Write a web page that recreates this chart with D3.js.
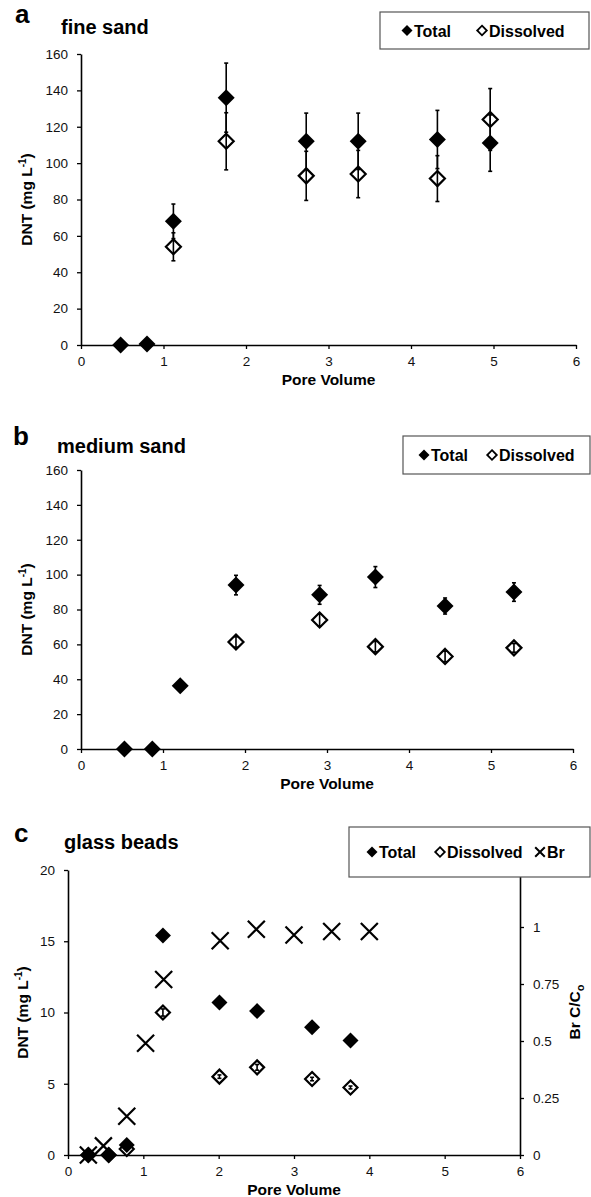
<!DOCTYPE html>
<html>
<head>
<meta charset="utf-8">
<script src="https://cdn.jsdelivr.net/npm/d3@7"></script>
<style>
  body { margin: 0; background: #fff; }
  text { font-family: Arial, "Liberation Sans", Helvetica, sans-serif; }
</style>
</head>
<body>
<div id="chart"></div>
<script>
// ---- data ----
// panel a, fine sand
const aTotalPV  = [0.48, 0.80, 1.12, 1.76, 2.73, 3.36, 4.32, 4.96];
const aTotalDNT = [0, 0.5, 68, 136, 112, 112, 113, 111];
const aTotalErr = [0, 0, 9.5, 19, 15.5, 15.5, 16, 15.5];
const aDissPV   = [1.12, 1.76, 2.73, 3.36, 4.32, 4.96];
const aDissDNT  = [54, 112, 93, 94, 91.5, 124];
const aDissErr  = [7.7, 15.7, 13.5, 13, 12.6, 17];

// panel b, medium sand
const bTotalPV  = [0.53, 0.87, 1.21, 1.89, 2.91, 3.59, 4.44, 5.28];
const bTotalDNT = [0, 0, 36.3, 94, 88.4, 98.6, 82, 90];
const bTotalErr = [0, 0, 0, 5.6, 5.4, 6, 4.6, 5.3];
const bDissPV   = [1.89, 2.91, 3.59, 4.44, 5.28];
const bDissDNT  = [61.4, 74, 58.7, 53.1, 58];
const bDissErr  = [3, 3.5, 3, 3, 2.5];

// panel c, glass beads
const cTotalPV  = [0.27, 0.54, 0.78, 1.26, 2.01, 2.51, 3.24, 3.75];
const cTotalDNT = [0, 0, 0.7, 15.4, 10.7, 10.1, 8.97, 8.03];
const cDissPV   = [0.27, 0.54, 0.78, 1.26, 2.01, 2.51, 3.24, 3.75];
const cDissDNT  = [0, 0, 0.42, 10.0, 5.5, 6.15, 5.33, 4.74];
const cDissErr  = [0, 0, 0, 0.25, 0.12, 0.2, 0.12, 0.1];
const cBrPV     = [0.27, 0.47, 0.78, 1.03, 1.27, 2.02, 2.5, 3.0, 3.5, 4.0];
const cBrRatio  = [0, 0.04, 0.17, 0.49, 0.77, 0.94, 0.99, 0.965, 0.98, 0.98];

const xTicks = [0, 1, 2, 3, 4, 5, 6];
const yTicksSand = [0, 20, 40, 60, 80, 100, 120, 140, 160];
const yTicksBeads = [0, 5, 10, 15, 20];
const brTicks = [0, 0.25, 0.5, 0.75, 1];

const legendAB = ["Total", "Dissolved"];
const legendC = ["Total", "Dissolved", "Br"];

// ---- drawing ----
const svg = d3.select("#chart").append("svg")
    .attr("width", 591)
    .attr("height", 1197);

function diamond(r) {
    return "M0," + (-r) + "L" + r + ",0L0," + r + "L" + (-r) + ",0Z";
}
function cross(r) {
    return "M" + (-r) + "," + (-r) + "L" + r + "," + r + "M" + (-r) + "," + r + "L" + r + "," + (-r);
}
function zip(xs, ys, es) {
    return xs.map((x, i) => ({ x: x, y: ys[i], e: es ? es[i] : 0 }));
}

function styleAxis(g) {
    g.select(".domain").attr("stroke", "#000").attr("stroke-width", 1.6);
    g.selectAll(".tick line").attr("stroke", "#000").attr("stroke-width", 1.3);
    g.selectAll(".tick text")
        .attr("font-family", "Arial, 'Liberation Sans', sans-serif")
        .attr("font-size", 13.5)
        .attr("fill", "#111");
}

function drawPanel(p) {
    var x = d3.scaleLinear().domain([0, 6]).range([p.left, p.right]);
    var y = d3.scaleLinear().domain([0, p.yMax]).range([p.bottom, p.top]);

    svg.append("g")
        .attr("transform", "translate(0," + p.bottom + ")")
        .call(d3.axisBottom(x).tickValues(xTicks).tickFormat(d3.format("d"))
            .tickSize(4).tickSizeOuter(0).tickPadding(7))
        .call(styleAxis);

    svg.append("g")
        .attr("transform", "translate(" + p.left + ",0)")
        .call(d3.axisLeft(y).tickValues(p.yTicks).tickFormat(d3.format("d"))
            .tickSize(4).tickSizeOuter(0).tickPadding(9))
        .call(styleAxis);

    // panel letter + title
    svg.append("text").attr("x", p.letterX).attr("y", p.letterY)
        .attr("font-size", 26).attr("font-weight", "bold").text(p.letter);
    svg.append("text").attr("x", p.titleX).attr("y", p.titleY)
        .attr("font-size", 20).attr("font-weight", "bold").text(p.title);

    // axis titles
    svg.append("text")
        .attr("x", (p.left + p.right) / 2).attr("y", p.bottom + 40)
        .attr("text-anchor", "middle").attr("font-size", 15.5).attr("font-weight", "bold")
        .text("Pore Volume");

    var yt = svg.append("text")
        .attr("transform", "translate(" + p.yTitleX + "," + ((p.top + p.bottom) / 2) + ") rotate(-90)")
        .attr("text-anchor", "middle").attr("font-size", 15.5).attr("font-weight", "bold");
    yt.append("tspan").text("DNT (mg L");
    yt.append("tspan").attr("dy", -6).attr("font-size", 10).text("-1");
    yt.append("tspan").attr("dy", 6).text(")");

    // open markers, then filled, then error bars on top
    var total = zip(p.totalPV, p.totalDNT, p.totalErr);
    var diss = zip(p.dissPV, p.dissDNT, p.dissErr);

    svg.selectAll(null).data(diss).enter().append("path")
        .attr("d", diamond(p.r - 1))
        .attr("transform", d => "translate(" + x(d.x) + "," + y(d.y) + ")")
        .attr("fill", "#fff").attr("stroke", "#000").attr("stroke-width", 2.2);

    svg.selectAll(null).data(total).enter().append("path")
        .attr("d", diamond(p.r))
        .attr("transform", d => "translate(" + x(d.x) + "," + y(d.y) + ")")
        .attr("fill", "#000");

    var errs = total.concat(diss).filter(d => d.e > 0);
    var eg = svg.append("g").attr("stroke", "#000").attr("stroke-width", 1.6);
    eg.selectAll(null).data(errs).enter().append("line")
        .attr("x1", d => x(d.x)).attr("x2", d => x(d.x))
        .attr("y1", d => y(d.y - d.e)).attr("y2", d => y(d.y + d.e));
    errs.forEach(function (d) {
        [d.y - d.e, d.y + d.e].forEach(function (v) {
            eg.append("line")
                .attr("x1", x(d.x) - 2).attr("x2", x(d.x) + 2)
                .attr("y1", y(v)).attr("y2", y(v));
        });
    });

    return { x: x, y: y };
}

function drawLegend(lg, labels) {
    svg.append("rect")
        .attr("x", lg.x).attr("y", lg.y).attr("width", lg.w).attr("height", lg.h)
        .attr("fill", "#fff").attr("stroke", "#555").attr("stroke-width", 1.2);
    var cy = lg.y + lg.h / 2;
    labels.forEach(function (lab, i) {
        var mx = lg.marks[i];
        var m = svg.append("path").attr("transform", "translate(" + mx + "," + cy + ")");
        if (i === 0) m.attr("d", diamond(5.5)).attr("fill", "#000");
        else if (i === 1) m.attr("d", diamond(4.8)).attr("fill", "#fff").attr("stroke", "#000").attr("stroke-width", 1.8);
        else m.attr("d", cross(4.8)).attr("fill", "none").attr("stroke", "#000").attr("stroke-width", 2);
        svg.append("text").attr("x", mx + 7).attr("y", cy + 6)
            .attr("font-size", 16).attr("font-weight", "bold").text(lab);
    });
}

// a
drawPanel({
    left: 81, right: 576, top: 54, bottom: 345, yMax: 160, yTicks: yTicksSand,
    letter: "a", letterX: 15, letterY: 23, title: "fine sand", titleX: 61, titleY: 34,
    yTitleX: 32, r: 8.5,
    totalPV: aTotalPV, totalDNT: aTotalDNT, totalErr: aTotalErr,
    dissPV: aDissPV, dissDNT: aDissDNT, dissErr: aDissErr
});
drawLegend({ x: 380, y: 12, w: 209, h: 37, marks: [407, 482] }, legendAB);

// b
drawPanel({
    left: 81, right: 573, top: 470, bottom: 749, yMax: 160, yTicks: yTicksSand,
    letter: "b", letterX: 13, letterY: 445, title: "medium sand", titleX: 57, titleY: 453,
    yTitleX: 32, r: 8.5,
    totalPV: bTotalPV, totalDNT: bTotalDNT, totalErr: bTotalErr,
    dissPV: bDissPV, dissDNT: bDissDNT, dissErr: bDissErr
});
drawLegend({ x: 403, y: 436, w: 187, h: 38, marks: [424, 492] }, legendAB);

// c
var c = drawPanel({
    left: 68, right: 520, top: 870, bottom: 1155, yMax: 20, yTicks: yTicksBeads,
    letter: "c", letterX: 14, letterY: 842, title: "glass beads", titleX: 64, titleY: 849,
    yTitleX: 28, r: 8,
    totalPV: cTotalPV, totalDNT: cTotalDNT, totalErr: null,
    dissPV: cDissPV, dissDNT: cDissDNT, dissErr: cDissErr
});

// Br on right axis
var yBr = d3.scaleLinear().domain([0, 1.25]).range([1155, 870]);
svg.append("g")
    .attr("transform", "translate(520,0)")
    .call(d3.axisRight(yBr).tickValues(brTicks).tickSize(4).tickSizeOuter(0).tickPadding(9)
        .tickFormat(d => String(d)))
    .call(styleAxis);

svg.append("g").selectAll("path")
    .data(zip(cBrPV, cBrRatio))
    .enter().append("path")
    .attr("d", cross(8.5))
    .attr("transform", d => "translate(" + c.x(d.x) + "," + yBr(d.y) + ")")
    .attr("fill", "none").attr("stroke", "#000").attr("stroke-width", 2.2);

var rt = svg.append("text")
    .attr("transform", "translate(580,1012) rotate(-90)")
    .attr("text-anchor", "middle").attr("font-size", 15.5).attr("font-weight", "bold");
rt.append("tspan").text("Br C/C");
rt.append("tspan").attr("dy", 4).attr("font-size", 11).text("o");

drawLegend({ x: 349, y: 827, w: 241, h: 50, marks: [372, 440, 540] }, legendC);
</script>
</body>
</html>
